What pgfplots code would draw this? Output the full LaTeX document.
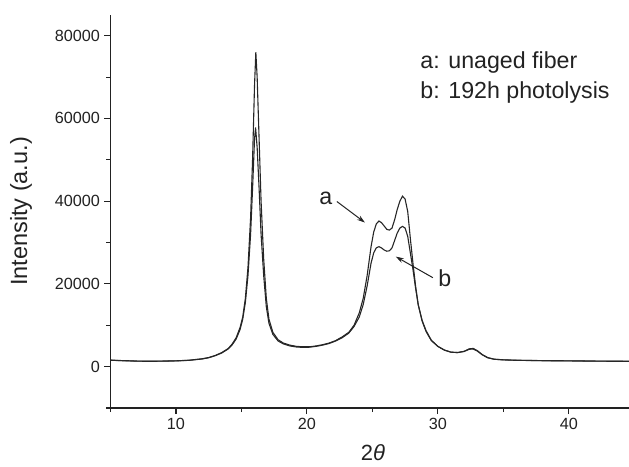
\documentclass[border=0pt]{standalone}
\usepackage{pgfplots}
\pgfplotsset{compat=1.18}
\usepackage{fontspec}
\setmainfont{Liberation Sans}
\usetikzlibrary{arrows.meta}
\definecolor{txt}{HTML}{222222}
\pgfplotstableread{
x y
5.0 1600
5.5 1500
6.0 1450
7.0 1350
8.0 1300
9.0 1350
10.0 1400
11.0 1550
12.0 1900
12.5 2200
13.0 2700
13.5 3400
14.0 4400
14.3 5500
14.6 7000
14.9 9500
15.1 12000
15.3 16500
15.5 24000
15.7 36000
15.85 50000
16.0 68000
16.1 76000
16.2 70000
16.35 55000
16.5 40000
16.7 26000
16.9 16500
17.1 11500
17.4 8300
17.8 6500
18.2 5700
18.7 5200
19.2 4900
19.7 4800
20.2 4800
20.7 5000
21.2 5300
21.7 5700
22.2 6300
22.7 7200
23.2 8300
23.6 10000
24.0 13000
24.3 16500
24.6 22000
24.9 29000
25.1 32500
25.3 34500
25.5 35200
25.7 34800
25.9 34000
26.1 33200
26.3 33000
26.5 33500
26.7 35500
26.9 38000
27.1 40000
27.3 41200
27.5 40500
27.7 37500
27.9 31000
28.1 25000
28.3 19500
28.5 15000
28.8 11000
29.1 8500
29.5 6300
30.0 4900
30.5 4000
31.0 3500
31.5 3400
32.0 3700
32.4 4300
32.7 4400
33.0 3900
33.4 2900
33.8 2200
34.3 1800
35.0 1650
36.0 1550
38.0 1450
40.0 1400
42.0 1350
44.6 1300
}\seriesa
\pgfplotstableread{
x y
5.0 1550
5.5 1480
6.0 1420
7.0 1330
8.0 1290
9.0 1330
10.0 1380
11.0 1520
12.0 1850
12.5 2150
13.0 2650
13.5 3300
14.0 4300
14.3 5300
14.6 6700
14.9 9000
15.1 11500
15.3 15500
15.5 22000
15.7 32000
15.85 43000
16.0 55000
16.08 57800
16.2 53000
16.35 43000
16.5 32000
16.7 22000
16.9 14500
17.1 10500
17.4 7800
17.8 6200
18.2 5500
18.7 5000
19.2 4750
19.7 4650
20.2 4700
20.7 4900
21.2 5200
21.7 5600
22.2 6200
22.7 7000
23.2 8100
23.6 9700
24.0 12000
24.3 15000
24.6 19500
24.9 25000
25.1 27500
25.3 28700
25.5 29000
25.7 28700
25.9 28200
26.1 27900
26.3 28000
26.5 28700
26.7 30500
26.9 32300
27.1 33500
27.3 33900
27.5 33500
27.7 31500
27.9 27500
28.1 23500
28.3 19000
28.5 15000
28.8 11200
29.1 8700
29.5 6400
30.0 4900
30.5 4000
31.0 3500
31.5 3400
32.0 3650
32.4 4200
32.7 4250
33.0 3800
33.4 2850
33.8 2150
34.3 1780
35.0 1630
36.0 1530
38.0 1430
40.0 1380
42.0 1330
44.6 1280
}\seriesb
\begin{document}
\begin{tikzpicture}
\begin{axis}[
  scale only axis,
  width=518.5pt, height=393pt,
  xmin=5, xmax=44.6, ymin=-10000, ymax=85000,
  axis x line=bottom, axis y line=left,
  axis line style={-, line width=1.4pt, color=txt},
  xtick={10,20,30,40}, ytick={0,20000,40000,60000,80000},
  minor xtick={5,15,25,35}, minor ytick={-10000,10000,30000,50000,70000},
  tick align=outside,
  major tick length=6pt, minor tick length=4pt,
  tick style={line width=1.1pt, color=txt},
  scaled ticks=false,
  xticklabels={10,20,30,40},
  yticklabels={0,20000,40000,60000,80000},
  tick label style={color=txt, font=\fontsize{16.2}{18}\selectfont},
  xticklabel style={yshift=-1pt},
  yticklabel style={xshift=-1pt},
  xlabel={2\textit{θ}},
  ylabel={Intensity (a.u.)},
  xlabel style={font=\fontsize{22}{24}\selectfont, color=txt, at={(axis description cs:0.506,-0.113)}, anchor=center},
  ylabel style={font=\fontsize{23.5}{26}\selectfont, color=txt, at={(axis description cs:-0.1726,0.5)}, anchor=center, rotate=0},
  clip=true,
]
\addplot[line width=1.1pt, color=black!85] table[x=x,y=y]{\seriesa};
\addplot[line width=1.1pt, color=black!85] table[x=x,y=y]{\seriesb};
\node[anchor=base west, font=\fontsize{23.2}{26}\selectfont, color=txt] at (axis cs:28.4,72160) {a: unaged fiber};
\node[anchor=base west, font=\fontsize{23.2}{26}\selectfont, color=txt] at (axis cs:28.4,64890) {b: 192h photolysis};
\node[font=\fontsize{23.2}{26}\selectfont, color=txt] at (axis cs:21.45,40650) {a};
\node[font=\fontsize{23.2}{26}\selectfont, color=txt] at (axis cs:30.53,21260) {b};
\draw[-{Stealth[length=8pt,width=5pt]}, line width=1pt, color=txt] (axis cs:22.29,39920) -- (axis cs:24.43,34830);
\draw[-{Stealth[length=8pt,width=5pt]}, line width=1pt, color=txt] (axis cs:29.62,21500) -- (axis cs:26.79,26590);
\end{axis}
\pgfresetboundingbox
\path ([xshift=-110.5pt,yshift=-58pt]current axis.south west) rectangle ([yshift=15pt]current axis.north east);
\end{tikzpicture}
\end{document}
